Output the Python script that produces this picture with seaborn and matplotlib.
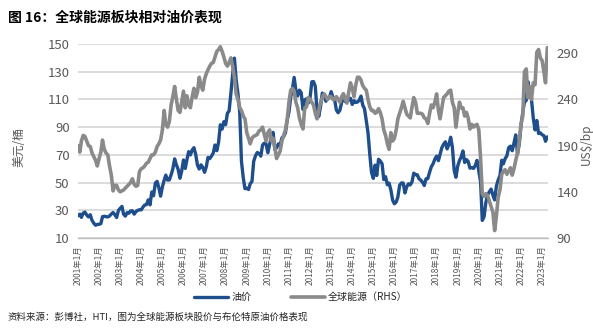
import matplotlib
matplotlib.use("Agg")
import matplotlib.pyplot as plt
import matplotlib.dates as mdates
from matplotlib.ticker import FuncFormatter
import seaborn as sns
import pandas as pd

# ---------------- data (monthly, 2001-01 .. 2023-04) ----------------
start_month = "2001-01-01"

oil_price = [  # Brent, US$/bbl (left axis)
    26.0, 27.2, 24.9, 28.0, 28.7, 26.6, 25.2, 26.8, 22.7, 20.7, 19.2, 19.8,
    19.9, 20.4, 25.4, 25.7, 25.4, 25.2, 25.9, 27.3, 28.4, 26.8, 24.8, 29.8,
    31.4, 32.8, 27.2, 25.8, 28.3, 27.9, 29.5, 29.6, 27.2, 29.1, 29.9, 30.4,
    30.3, 32.4, 33.8, 34.1, 37.5, 33.9, 43.2, 40.5, 49.6, 50.9, 46.2, 40.2,
    46.9, 51.7, 55.4, 51.8, 51.9, 55.6, 59.9, 67.1, 62.7, 59.5, 53.1, 58.2,
    66.3, 60.2, 66.4, 72.3, 70.0, 73.5, 75.2, 70.3, 62.5, 59.8, 62.8, 60.9,
    57.4, 61.6, 68.1, 67.3, 69.1, 71.4, 77.1, 73.0, 79.2, 91.7, 88.6, 93.9,
    91.8, 100.1, 101.6, 114.5, 127.8, 139.8, 124.1, 114.1, 100.6, 65.3, 53.5, 45.6,
    45.9, 45.0, 49.2, 50.8, 65.4, 69.3, 71.7, 71.0, 69.1, 77.0, 78.5, 77.9,
    71.5, 77.6, 82.7, 86.2, 74.0, 75.0, 77.9, 76.7, 82.3, 83.2, 85.9, 94.8,
    101.0, 111.8, 117.4, 125.9, 116.7, 112.5, 116.7, 114.9, 102.8, 109.6, 110.5, 107.4,
    111.0, 122.7, 122.9, 119.5, 101.9, 97.8, 104.9, 114.6, 112.4, 108.7, 111.2, 111.1,
    115.6, 111.4, 110.0, 102.4, 100.4, 102.2, 107.7, 114.0, 108.4, 108.8, 109.7, 110.8,
    106.4, 109.1, 107.8, 108.1, 109.4, 112.4, 106.0, 103.2, 94.7, 85.9, 70.2, 57.3,
    53.0, 62.6, 55.1, 66.8, 65.6, 63.6, 52.2, 54.2, 48.4, 49.6, 44.6, 37.3,
    34.7, 36.0, 39.6, 48.1, 49.7, 49.7, 42.5, 47.0, 49.1, 48.3, 50.5, 56.8,
    55.7, 55.6, 52.8, 51.7, 50.3, 47.9, 52.7, 52.9, 57.5, 61.4, 63.6, 66.9,
    69.1, 65.8, 70.3, 75.2, 77.6, 79.4, 74.3, 77.4, 82.7, 75.5, 58.7, 53.8,
    61.9, 66.0, 68.4, 72.8, 64.5, 66.6, 65.2, 60.4, 60.8, 60.2, 62.4, 66.0,
    58.2, 50.5, 22.7, 25.3, 35.3, 41.2, 43.3, 45.3, 40.9, 37.5, 47.6, 51.8,
    55.0, 66.1, 63.5, 67.3, 69.3, 75.1, 76.3, 73.0, 78.5, 84.4, 70.6, 77.8,
    91.2, 101.0, 107.9, 109.3, 122.8, 114.8, 110.0, 96.5, 88.0, 94.8, 85.4, 85.9,
    84.5, 83.9, 79.8, 83.0,
]

energy_index = [  # global energy sector (right axis)
    190, 183, 195, 201, 200, 195, 190, 189, 182, 178, 174, 168,
    176, 183, 196, 186, 182, 180, 168, 158, 141, 147, 147, 142,
    140, 141, 142, 144, 146, 148, 150, 154, 148, 146, 147, 162,
    165, 166, 168, 171, 172, 176, 180, 180, 183, 189, 192, 196,
    207, 228, 213, 210, 216, 234, 243, 254, 240, 228, 226, 237,
    249, 231, 244, 234, 231, 243, 252, 242, 248, 264, 255, 250,
    262, 268, 272, 276, 279, 280, 286, 292, 294, 297, 292, 286,
    279, 276, 280, 285, 276, 264, 246, 240, 231, 228, 222, 219,
    204, 198, 192, 198, 200, 201, 202, 206, 207, 210, 202, 195,
    204, 207, 195, 198, 188, 176, 180, 184, 195, 201, 207, 218,
    237, 250, 252, 249, 237, 231, 220, 213, 208, 231, 232, 242,
    240, 237, 234, 225, 219, 228, 237, 242, 246, 243, 240, 243,
    243, 240, 240, 243, 240, 237, 243, 246, 240, 236, 248, 258,
    252, 243, 255, 264, 264, 261, 255, 252, 250, 240, 232, 228,
    228, 225, 226, 230, 226, 219, 207, 201, 192, 186, 204, 195,
    198, 207, 219, 225, 231, 238, 231, 224, 222, 220, 232, 242,
    237, 225, 225, 225, 224, 220, 219, 214, 225, 234, 231, 237,
    246, 228, 219, 231, 242, 244, 246, 249, 250, 237, 231, 210,
    225, 237, 231, 231, 222, 226, 220, 208, 213, 210, 212, 213,
    207, 176, 138, 135, 138, 136, 130, 124, 118, 98, 114, 134,
    142, 159, 162, 164, 159, 162, 166, 158, 165, 174, 182, 195,
    214, 222, 270, 273, 242, 254, 240, 258, 256, 291, 294, 285,
    282, 270, 258, 296,
]

left_ticks = [10, 30, 50, 70, 90, 110, 130, 150]
right_ticks = [90, 140, 190, 240, 290]

title_text = "图 16：全球能源板块相对油价表现"
source_text = "资料来源：彭博社，HTI，图为全球能源板块股价与布伦特原油价格表现"
oil_label = "油价"
energy_label = "全球能源（RHS）"
left_ylabel = "美元/桶"
right_ylabel = "US$/bp"

# ---------------- styling ----------------
sns.set_theme(style="white")
plt.rcParams["font.family"] = ["Noto Sans CJK SC", "DejaVu Sans"]
plt.rcParams["axes.unicode_minus"] = False

BLUE = "#1f4e8c"
GRAY = "#8a8a8a"
TICK = "#595959"
GRID = "#d9d9d9"

dates = pd.date_range(start_month, periods=len(oil_price), freq="MS")
df = pd.DataFrame({"date": dates, "oil": oil_price, "energy": energy_index})

fig = plt.figure(figsize=(5.93, 3.35), dpi=100)
ax = fig.add_axes([78 / 593, 1 - 238 / 335, 470 / 593, 194 / 335])
ax2 = ax.twinx()

sns.lineplot(data=df, x="date", y="oil", ax=ax, color=BLUE, linewidth=2.4, label=oil_label, legend=False)
sns.lineplot(data=df, x="date", y="energy", ax=ax2, color=GRAY, linewidth=2.6, label=energy_label, legend=False)

ax.set_ylim(10, 150)
ax.set_yticks(left_ticks)
ax2.set_ylim(90, 300)
ax2.set_yticks(right_ticks)
ax.set_xlim(dates[0], dates[-1] + pd.Timedelta(days=12))

ax.yaxis.grid(True, color=GRID, linewidth=1.3)
ax.set_axisbelow(True)
ax.xaxis.grid(False)
ax2.grid(False)

for a in (ax, ax2):
    for s in ("top", "left", "right", "bottom"):
        a.spines[s].set_visible(False)
ax.spines["bottom"].set_visible(True)
ax.spines["bottom"].set_color("#bfbfbf")
ax.spines["bottom"].set_linewidth(1.0)

ax.xaxis.set_major_locator(mdates.YearLocator(1, month=1, day=1))
ax.xaxis.set_major_formatter(FuncFormatter(lambda v, p: f"{mdates.num2date(v).year}年1月"))
ax.tick_params(axis="x", which="major", length=3, width=0.8, color="#bfbfbf",
               labelsize=6, labelcolor=TICK, labelrotation=90, pad=2)
ax.tick_params(axis="y", length=0, labelsize=9.5, labelcolor=TICK, pad=6)
ax2.tick_params(axis="y", length=0, labelsize=9.5, labelcolor=TICK, pad=6)

ax.set_xlabel("")
ax.set_ylabel(left_ylabel, color=TICK, fontsize=8.5)
ax.yaxis.set_label_coords(-0.112, 0.47)
ax2.set_ylabel("")
fig.text(586 / 593, 1 - 144 / 335, right_ylabel, rotation=90, ha="center", va="center",
         color=TICK, fontsize=8.5)

fig.text(8 / 593, 1 - 18 / 335, title_text, ha="left", va="center", fontsize=10,
         fontweight="bold", color="black")
fig.text(8 / 593, 1 - 317 / 335, source_text, ha="left", va="center", fontsize=6.8, color="#222222")

h1, l1 = ax.get_legend_handles_labels()
h2, l2 = ax2.get_legend_handles_labels()
fig.legend(h1 + h2, l1 + l2, loc="center", bbox_to_anchor=(301 / 593, 1 - 297 / 335),
           ncol=2, frameon=False, fontsize=7.2, handlelength=3.4, handletextpad=0.3,
           columnspacing=4.0, borderaxespad=0)

fig.savefig("out.png", dpi=100)
